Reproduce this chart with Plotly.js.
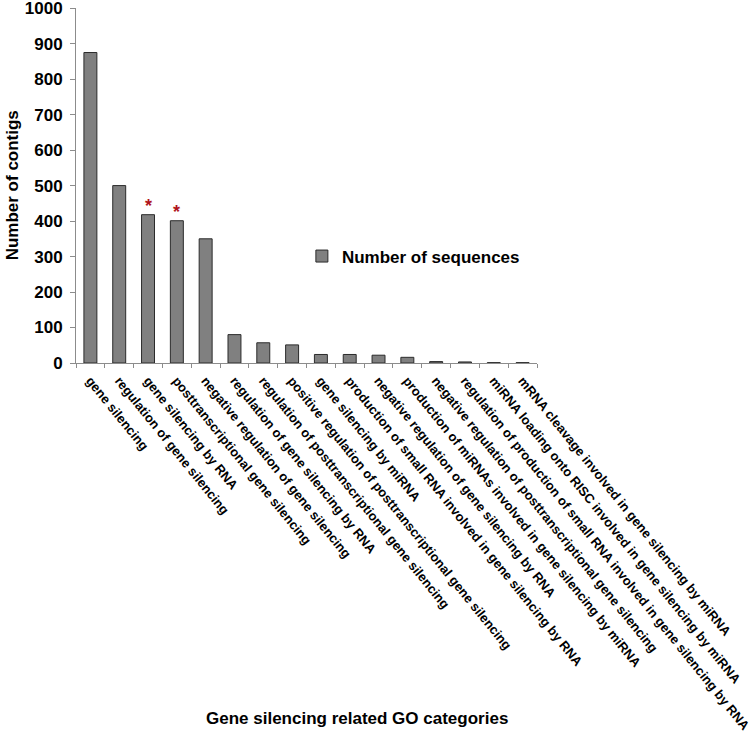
<!DOCTYPE html>
<html>
<head>
<meta charset="utf-8">
<script src="https://cdn.plot.ly/plotly-3.0.1.min.js"></script>
<style>
  html, body { margin: 0; padding: 0; background: #fff; }
  #chart { width: 752px; height: 732px; }
</style>
</head>
<body>
<div id="chart"></div>
<script>
/* GO categories (x) and contig counts (y) */
const categories = [
  'gene silencing',
  'regulation of gene silencing',
  'gene silencing by RNA',
  'posttranscriptional gene silencing',
  'negative regulation of gene silencing',
  'regulation of gene silencing by RNA',
  'regulation of posttranscriptional gene silencing',
  'positive regulation of posttranscriptional gene silencing',
  'gene silencing by miRNA',
  'production of small RNA involved in gene silencing by RNA',
  'negative regulation of gene silencing by RNA',
  'production of miRNAs involved in gene silencing by miRNA',
  'negative regulation of posttranscriptional gene silencing',
  'regulation of production of small RNA involved in gene silencing by RNA',
  'miRNA loading onto RISC involved in gene silencing by miRNA',
  'mRNA cleavage involved in gene silencing by miRNA'
];
const counts = [875, 500, 418, 401, 350, 80, 57, 51, 24, 24, 22, 16, 4, 3, 1, 1];

/* bars flagged with a red asterisk */
const starred = ['gene silencing by RNA', 'posttranscriptional gene silencing'];

const yTicks = [0, 100, 200, 300, 400, 500, 600, 700, 800, 900, 1000];

const FONT = 'Liberation Sans, Arial, sans-serif';

const bars = {
  x: categories,
  y: counts,
  type: 'bar',
  name: 'Number of sequences',
  marker: { color: '#808080', line: { color: '#2b2b2b', width: 1 } }
};

const stars = starred.map(c => ({
  x: c,
  y: counts[categories.indexOf(c)],
  xref: 'x', yref: 'y',
  text: '*',
  showarrow: false,
  yanchor: 'bottom',
  yshift: -3,
  font: { family: FONT, size: 18, color: '#b0141c', weight: 'bold' }
}));

const xTitle = {
  xref: 'paper', yref: 'paper',
  x: 0.61, y: -1.0,
  xanchor: 'center', yanchor: 'middle',
  text: 'Gene silencing related GO categories',
  showarrow: false,
  font: { family: FONT, size: 17, color: '#000', weight: 'bold' }
};

const yTitle = {
  xref: 'paper', yref: 'paper',
  x: -0.137, y: 0.5,
  xanchor: 'center', yanchor: 'middle',
  textangle: -90,
  text: 'Number of contigs',
  showarrow: false,
  font: { family: FONT, size: 17, color: '#000', weight: 'bold' }
};

const layout = {
  width: 752, height: 732,
  margin: { l: 76, r: 215, t: 8, b: 369 },
  paper_bgcolor: '#fff',
  plot_bgcolor: '#fff',
  bargap: 0.55,
  font: { family: FONT, color: '#000' },
  showlegend: true,
  legend: {
    x: 0.49, y: 0.30, xanchor: 'left', yanchor: 'middle',
    font: { family: FONT, size: 17, color: '#000', weight: 'bold' },
    itemwidth: 30, bgcolor: 'rgba(0,0,0,0)'
  },
  xaxis: {
    type: 'category',
    automargin: false,
    showline: true, linecolor: '#8c8c8c', linewidth: 1,
    ticks: 'outside', tickson: 'boundaries', ticklen: 4, tickcolor: '#8c8c8c',
    tickangle: 51,
    ticklabelstandoff: 4,
    tickfont: { family: FONT, size: 13, color: '#000', weight: 'bold' },
    showgrid: false, zeroline: false
  },
  yaxis: {
    range: [0, 1000.5],
    automargin: false,
    tickvals: yTicks,
    ticklabeloverflow: 'allow',
    showline: true, linecolor: '#8c8c8c', linewidth: 1,
    ticks: 'outside', ticklen: 5, tickcolor: '#8c8c8c',
    ticklabelstandoff: 4,
    tickfont: { family: FONT, size: 17, color: '#000', weight: 'bold' },
    showgrid: false, zeroline: false
  },
  annotations: [...stars, xTitle, yTitle]
};

Plotly.newPlot('chart', [bars], layout, { displayModeBar: false, staticPlot: true });
</script>
</body>
</html>
